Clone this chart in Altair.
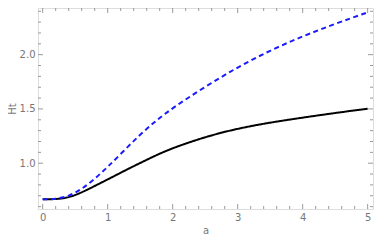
import altair as alt
import pandas as pd

xs = [0, 0.2, 0.4, 0.6, 0.8, 1.0, 1.25, 1.5, 1.75, 2.0, 2.5, 3.0, 3.5, 4.0, 4.5, 5.0]
black = [0.667, 0.668, 0.682, 0.73, 0.79, 0.85, 0.928, 1.002, 1.075, 1.14, 1.243, 1.32, 1.375, 1.42, 1.463, 1.502]
blue = [0.667, 0.669, 0.695, 0.76, 0.855, 0.965, 1.115, 1.265, 1.395, 1.51, 1.705, 1.885, 2.04, 2.17, 2.285, 2.39]

x_major = [0, 1, 2, 3, 4, 5]
x_minor = [0.2, 0.4, 0.6, 0.8, 1.2, 1.4, 1.6, 1.8, 2.2, 2.4, 2.6, 2.8,
           3.2, 3.4, 3.6, 3.8, 4.2, 4.4, 4.6, 4.8]
y_major = [1.0, 1.5, 2.0]
y_minor = [0.6, 0.7, 0.8, 0.9, 1.1, 1.2, 1.3, 1.4, 1.6, 1.7, 1.8, 1.9, 2.1, 2.2, 2.3, 2.4]

W, H = 335, 201
GRAY = "#9a9a9a"
LABEL = "#777777"

xscale = alt.Scale(domain=[-0.072, 5.082], nice=False, zero=False)
yscale = alt.Scale(domain=[0.578, 2.43], nice=False, zero=False)

x_axis = alt.Axis(values=x_major, format=".0f", ticks=False, domain=False, grid=False,
                  labelColor=LABEL, labelFontSize=10, labelPadding=3,
                  titleColor=LABEL, titleFontSize=10, titleFontWeight="normal",
                  titlePadding=3)
y_axis = alt.Axis(values=y_major, format=".1f", ticks=False, domain=False, grid=False,
                  labelColor=LABEL, labelFontSize=10, labelPadding=3,
                  titleColor=LABEL, titleFontSize=10, titleFontWeight="normal",
                  titlePadding=2)

df = pd.DataFrame({
    "a": xs * 2,
    "Ht": black + blue,
    "s": ["black"] * len(xs) + ["blue"] * len(xs),
})

lines = alt.Chart(df).mark_line(interpolate="basis", strokeWidth=2).encode(
    x=alt.X("a:Q", scale=xscale, title="a", axis=x_axis),
    y=alt.Y("Ht:Q", scale=yscale, title="Ht", axis=y_axis),
    color=alt.Color("s:N", scale=alt.Scale(domain=["black", "blue"], range=["#000000", "#1a1aff"]), legend=None),
    strokeDash=alt.StrokeDash("s:N", scale=alt.Scale(domain=["black", "blue"], range=[[1, 0], [5, 3.5]]), legend=None),
)

def xticks(vals, length):
    d = pd.DataFrame({"a": vals})
    enc = dict(x=alt.X("a:Q", scale=xscale, title="a", axis=x_axis))
    bottom = alt.Chart(d).mark_rule(color=GRAY, strokeWidth=1).encode(
        y=alt.value(H), y2=alt.value(H - length), **enc)
    top = alt.Chart(d).mark_rule(color=GRAY, strokeWidth=1).encode(
        y=alt.value(0), y2=alt.value(length), **enc)
    return [bottom, top]

def yticks(vals, length):
    d = pd.DataFrame({"Ht": vals})
    enc = dict(y=alt.Y("Ht:Q", scale=yscale, title="Ht", axis=y_axis))
    left = alt.Chart(d).mark_rule(color=GRAY, strokeWidth=1).encode(
        x=alt.value(0), x2=alt.value(length), **enc)
    right = alt.Chart(d).mark_rule(color=GRAY, strokeWidth=1).encode(
        x=alt.value(W), x2=alt.value(W - length), **enc)
    return [left, right]

layers = [lines] + xticks(x_major, 5) + xticks(x_minor, 3) + yticks(y_major, 5) + yticks(y_minor, 3)

chart = alt.layer(*layers).properties(
    width=W, height=H,
    autosize=alt.AutoSizeParams(type="none"),
    padding={"left": 30, "top": 0, "right": 1, "bottom": 29},
).configure_view(stroke=GRAY, strokeWidth=1).configure(font="DejaVu Sans")

chart.save("out.html", embed_options={"renderer": "svg", "actions": False})
